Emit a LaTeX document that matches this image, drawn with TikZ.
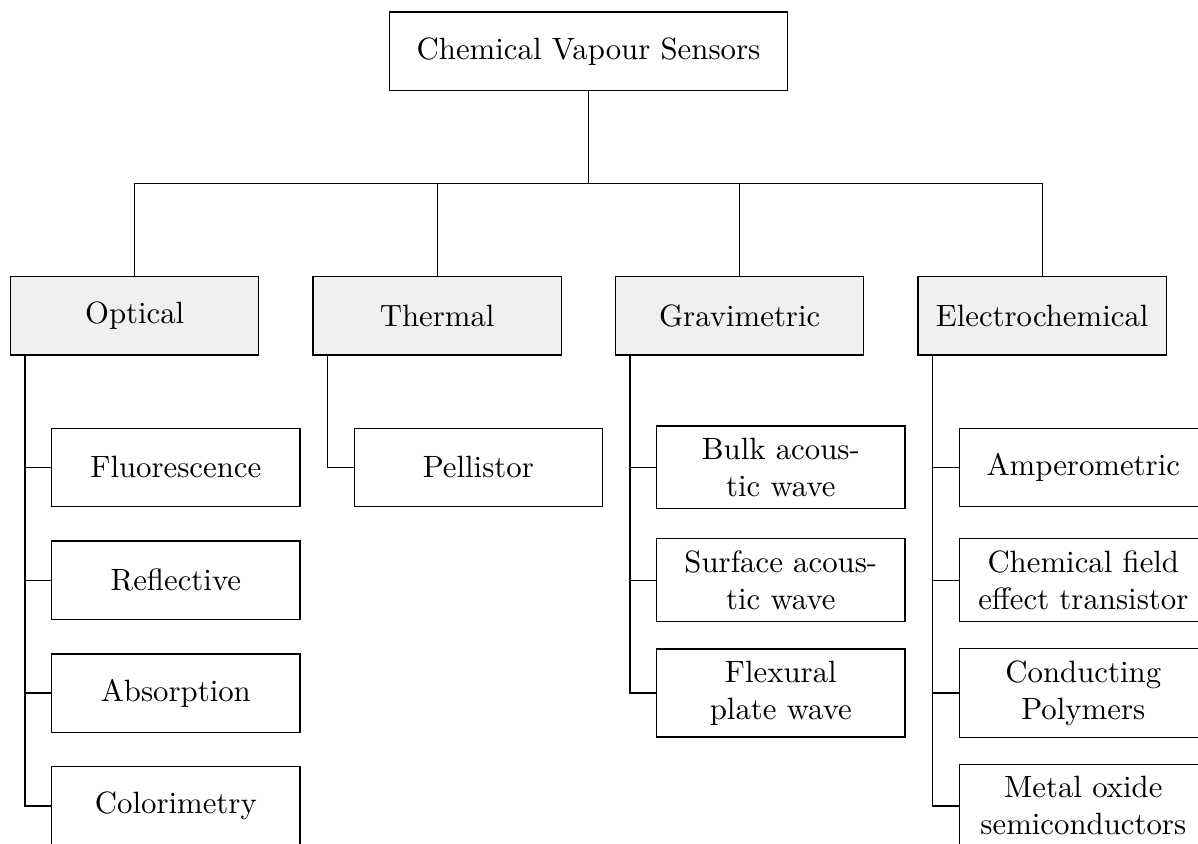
\documentclass[tikz,border=0pt]{standalone}
\usepackage{amsmath, amssymb}
\usepackage{tikz}
\usetikzlibrary{positioning}
\tikzset{
    rootbox/.style={rectangle, draw, align=center, minimum width=4.55cm, minimum height=0.893cm},
    groupbox/.style={rectangle, draw, fill=gray!12, text width=2.6cm, align=center, minimum height=0.893cm, inner ysep=3.85pt},
    leafbox/.style={rectangle, draw, fill=white, text width=2.6cm, align=center, minimum height=0.893cm, inner ysep=3.85pt},
    link/.style={draw, line width=0.4pt}
}
\begin{document}
\begin{tikzpicture}[node distance=1.288cm, on grid, auto]
    \useasboundingbox (0,0) rectangle (13.672,-9.632);
    \node[rootbox] (cvs) at (6.716,-0.584) {Chemical Vapour Sensors};

    \node[groupbox] (optical) at (1.537,-3.605) {Optical};
    \node[groupbox, right=3.452cm of optical] (thermal) {Thermal};
    \node[groupbox, right=3.452cm of thermal] (gravi) {Gravimetric};
    \node[groupbox, right=3.452cm of gravi] (electro) {Electrochemical};

    \node[leafbox, below right=1.728cm and 0.47cm of optical] (fluor) {Fluorescence};
    \node[leafbox, below=of fluor] (reflect) {Reflective};
    \node[leafbox, below=of reflect] (absorb) {Absorption};
    \node[leafbox, below=of absorb] (colori) {Colorimetry};

    \node[leafbox, below right=1.728cm and 0.47cm of thermal] (pelli) {Pellistor};

    \node[leafbox, below right=1.728cm and 0.47cm of gravi] (bulk) {Bulk acoustic wave};
    \node[leafbox, below=of bulk] (surface) {Surface acoustic wave};
    \node[leafbox, below=of surface] (flex) {Flexural plate wave};

    \node[leafbox, below right=1.728cm and 0.47cm of electro] (ampero) {Amperometric};
    \node[leafbox, below=of ampero] (chemfet) {Chemical field effect transistor};
    \node[leafbox, below=of chemfet] (polym) {Conducting Polymers};
    \node[leafbox, below=of polym] (metox) {Metal oxide semiconductors};

    \foreach \grp in {optical, thermal, gravi, electro}
        \draw[link] (cvs.south) -- ++(0,-1.061) -| (\grp.north);

    \foreach \leaf in {fluor, reflect, absorb, colori}
        \draw[link] ([xshift=0.173cm]optical.south west) |- (\leaf.west);
    \draw[link] ([xshift=0.173cm]thermal.south west) |- (pelli.west);
    \foreach \leaf in {bulk, surface, flex}
        \draw[link] ([xshift=0.173cm]gravi.south west) |- (\leaf.west);
    \foreach \leaf in {ampero, chemfet, polym, metox}
        \draw[link] ([xshift=0.173cm]electro.south west) |- (\leaf.west);
\end{tikzpicture}
\end{document}
